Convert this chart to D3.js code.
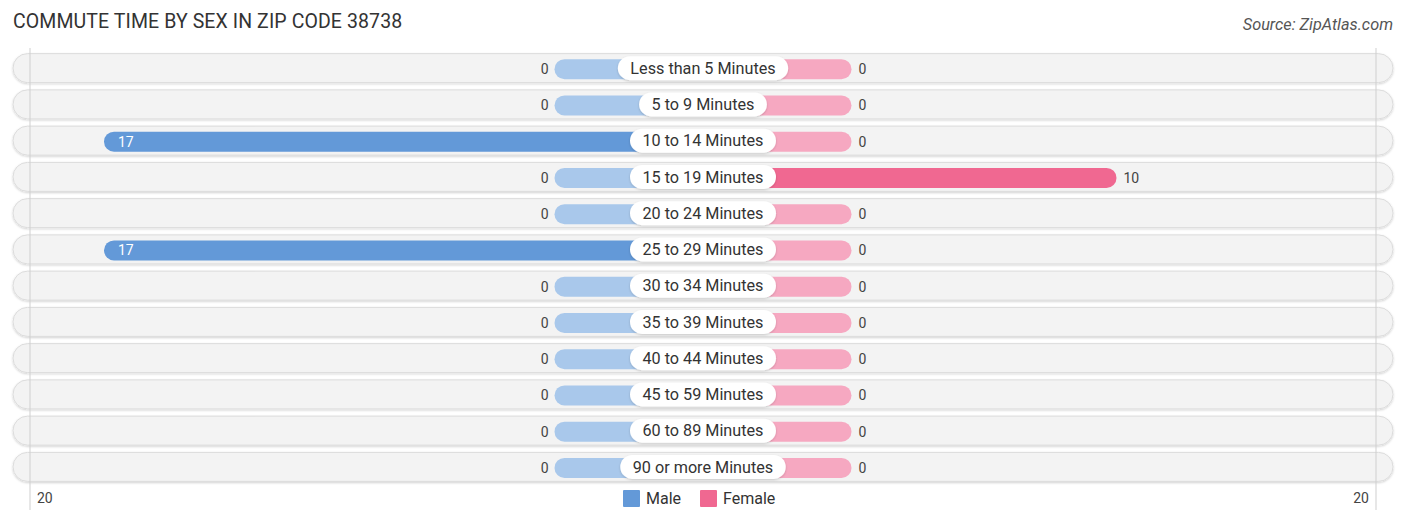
<!DOCTYPE html>
<html>
<head>
<meta charset="utf-8">
<script src="https://cdn.jsdelivr.net/npm/d3@7/dist/d3.min.js"></script>
<style>
  html, body { margin: 0; padding: 0; background: #fff; }
  svg { display: block; font-family: Roboto, "Noto Sans", sans-serif; }
</style>
</head>
<body>
<svg id="chart" width="1406" height="523"></svg>
<script>
'use strict';

const categories = [
  'Less than 5 Minutes', '5 to 9 Minutes', '10 to 14 Minutes', '15 to 19 Minutes',
  '20 to 24 Minutes', '25 to 29 Minutes', '30 to 34 Minutes', '35 to 39 Minutes',
  '40 to 44 Minutes', '45 to 59 Minutes', '60 to 89 Minutes', '90 or more Minutes'
];
const maleValues   = [0, 0, 17, 0, 0, 17, 0, 0, 0, 0, 0, 0];
const femaleValues = [0, 0, 0, 10, 0, 0, 0, 0, 0, 0, 0, 0];
const axisTicks    = [-20, 20];

const CENTER   = 703;
const STUB     = 148.5;
const BAR_H    = 20;
const PILL_H   = 29;

const COLOR_MALE         = '#6399d8';
const COLOR_MALE_LIGHT   = '#a9c8eb';
const COLOR_FEMALE       = '#f06891';
const COLOR_FEMALE_LIGHT = '#f6a8c1';

const svg = d3.select('#chart');

const defs = svg.append('defs');
const shadow = defs.append('filter').attr('id', 'pillShadow')
  .attr('x', '-5%').attr('y', '-30%').attr('width', '110%').attr('height', '160%');
shadow.append('feDropShadow')
  .attr('dx', 0).attr('dy', 1).attr('stdDeviation', 1)
  .attr('flood-color', '#000').attr('flood-opacity', 0.18);

// ── Scales ────────────────────────────────────────────────────
const y = d3.scaleBand().domain(categories).range([50, 485]).padding(0);
const axisX = d3.scaleLinear().domain([-20, 20]).range([30, 1376]);
const barLen = d3.scaleLinear().domain([0, 20]).range([STUB, STUB + 530]);

const rows = categories.map((c, i) => ({ cat: c, male: maleValues[i], female: femaleValues[i] }));
const maxVal = d3.max(rows, d => Math.max(d.male, d.female));

// ── Title ─────────────────────────────────────────────────────
svg.append('text')
  .attr('x', 13).attr('y', 28)
  .attr('font-size', 19.5).attr('letter-spacing', 0.1).attr('fill', '#333')
  .text('COMMUTE TIME BY SEX IN ZIP CODE 38738');

svg.append('text')
  .attr('x', 1393).attr('y', 30)
  .attr('text-anchor', 'end')
  .attr('font-size', 16.3).attr('font-style', 'italic').attr('fill', '#555')
  .text('Source: ZipAtlas.com');

// ── Row backgrounds ───────────────────────────────────────────
const rowG = svg.append('g').selectAll('g.row')
  .data(rows)
  .join('g')
    .attr('class', 'row')
    .attr('transform', d => `translate(0,${y(d.cat) + y.bandwidth() / 2})`);

rowG.append('rect')
  .attr('x', 13).attr('y', -PILL_H / 2)
  .attr('width', 1380).attr('height', PILL_H)
  .attr('rx', PILL_H / 2)
  .attr('fill', '#f3f3f3')
  .attr('stroke', '#dcdcdc').attr('stroke-width', 1)
  .attr('filter', 'url(#pillShadow)');

// ── Gridlines ─────────────────────────────────────────────────
svg.append('g').selectAll('line.grid')
  .data(axisTicks)
  .join('line')
    .attr('class', 'grid')
    .attr('x1', d => axisX(d)).attr('x2', d => axisX(d))
    .attr('y1', 48).attr('y2', 510)
    .attr('stroke', '#cfcfcf').attr('stroke-width', 1);

// ── Bars ──────────────────────────────────────────────────────
rowG.append('rect')
  .attr('x', d => CENTER - barLen(d.male))
  .attr('y', -BAR_H / 2 + 1)
  .attr('width', d => barLen(d.male))
  .attr('height', BAR_H)
  .attr('rx', BAR_H / 2)
  .attr('fill', d => d.male > 0 ? COLOR_MALE : COLOR_MALE_LIGHT);

rowG.append('rect')
  .attr('x', CENTER)
  .attr('y', -BAR_H / 2 + 1)
  .attr('width', d => barLen(d.female))
  .attr('height', BAR_H)
  .attr('rx', BAR_H / 2)
  .attr('fill', d => d.female > 0 ? COLOR_FEMALE : COLOR_FEMALE_LIGHT);

// ── Value labels ──────────────────────────────────────────────
const inside = v => v > 0 && v >= 0.75 * maxVal;

rowG.append('text')
  .attr('x', d => inside(d.male) ? CENTER - barLen(d.male) + 14 : CENTER - barLen(d.male) - 6)
  .attr('y', 1)
  .attr('dy', '0.35em')
  .attr('text-anchor', d => inside(d.male) ? 'start' : 'end')
  .attr('font-size', 14)
  .attr('fill', d => inside(d.male) ? '#fff' : '#444')
  .text(d => d.male);

rowG.append('text')
  .attr('x', d => inside(d.female) ? CENTER + barLen(d.female) - 14 : CENTER + barLen(d.female) + 7)
  .attr('y', 1)
  .attr('dy', '0.35em')
  .attr('text-anchor', d => inside(d.female) ? 'end' : 'start')
  .attr('font-size', 14)
  .attr('fill', d => inside(d.female) ? '#fff' : '#444')
  .text(d => d.female);

// ── Category labels ───────────────────────────────────────────
rowG.each(function(d) {
  const g = d3.select(this);
  const t = g.append('text')
    .attr('x', CENTER).attr('y', 0)
    .attr('dy', '0.35em')
    .attr('text-anchor', 'middle')
    .attr('font-size', 16.2).attr('fill', '#333')
    .text(d.cat);
  const w = t.node().getComputedTextLength() + 25;
  g.insert('rect', 'text:last-of-type')
    .attr('x', CENTER - w / 2).attr('y', -12)
    .attr('width', w).attr('height', 24)
    .attr('rx', 12)
    .attr('fill', '#fff')
    .attr('filter', 'url(#pillShadow)');
});

// ── Axis labels ───────────────────────────────────────────────
svg.append('g').selectAll('text.tick')
  .data(axisTicks)
  .join('text')
    .attr('class', 'tick')
    .attr('x', d => d < 0 ? axisX(d) + 7 : axisX(d) - 7)
    .attr('y', 498).attr('dy', '0.35em')
    .attr('text-anchor', d => d < 0 ? 'start' : 'end')
    .attr('font-size', 14).attr('fill', '#444')
    .text(d => Math.abs(d));

// ── Legend ────────────────────────────────────────────────────
const legend = [
  { label: 'Male',   color: COLOR_MALE,   x: 623 },
  { label: 'Female', color: COLOR_FEMALE, x: 700 }
];
const lg = svg.append('g').selectAll('g.legend')
  .data(legend)
  .join('g')
    .attr('class', 'legend')
    .attr('transform', d => `translate(${d.x},490)`);
lg.append('rect')
  .attr('width', 17).attr('height', 17).attr('rx', 1)
  .attr('fill', d => d.color);
lg.append('text')
  .attr('x', 23).attr('y', 8.5).attr('dy', '0.35em')
  .attr('font-size', 16).attr('fill', '#333')
  .text(d => d.label);
</script>
</body>
</html>
